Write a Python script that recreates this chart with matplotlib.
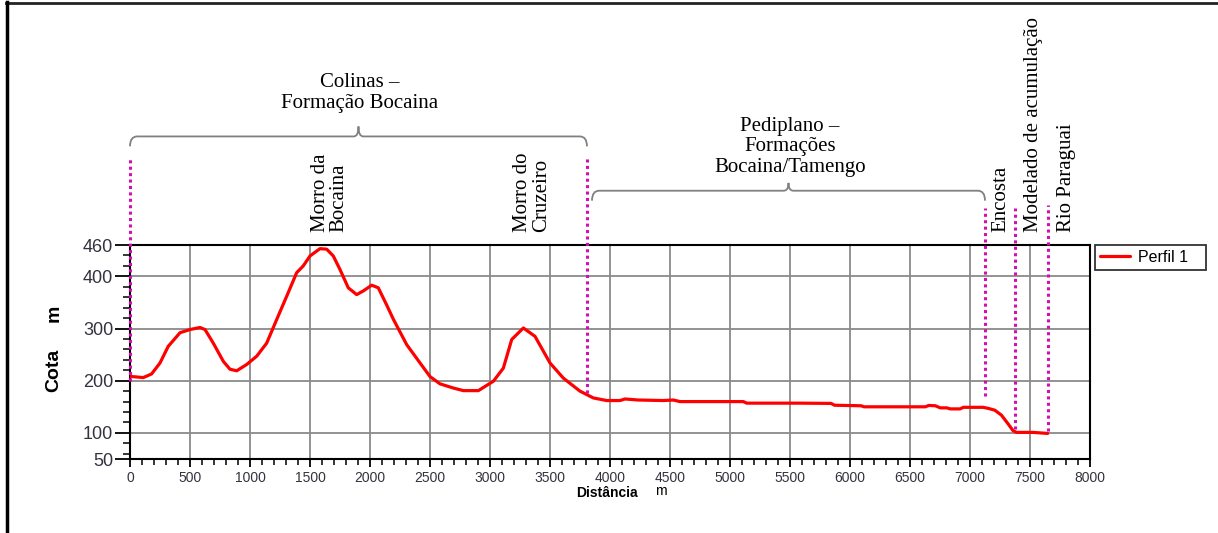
import matplotlib.pyplot as plt
from matplotlib.lines import Line2D
from matplotlib.path import Path
from matplotlib.patches import PathPatch
from matplotlib.ticker import MultipleLocator, FixedLocator

# perfil topografico (distancia em m, cota em m)
distancia = [0, 14, 111, 180, 250, 319, 417, 500, 583, 625, 694, 778, 833, 889, 972,
             1056, 1139, 1222, 1306, 1389, 1444, 1500, 1583, 1639, 1694, 1750, 1819,
             1889, 1944, 2014, 2069, 2139, 2194, 2306, 2417, 2500, 2583, 2694, 2778,
             2903, 3028, 3111, 3181, 3278, 3375, 3500, 3611, 3750, 3861, 3972, 4083,
             4125, 4236, 4444, 4528, 4583, 5111, 5139, 5583, 5843, 5871, 6091, 6118,
             6628, 6656, 6711, 6752, 6807, 6835, 6917, 6945, 7110, 7152, 7207, 7262,
             7317, 7358, 7386, 7523, 7647]
cota = [208, 208, 206, 213, 234, 266, 292, 298, 302, 298, 272, 237, 222, 219, 231,
        247, 272, 317, 362, 407, 420, 439, 453, 452, 439, 413, 378,
        365, 372, 383, 378, 345, 318, 269, 234, 208, 194, 186, 181,
        181, 199, 224, 279, 301, 285, 234, 205, 180, 167, 162, 162,
        165, 163, 162, 163, 160, 160, 157, 157, 156.5, 153, 152, 150,
        150, 152.6, 152, 148, 148, 146, 146, 149, 149, 147, 143.5, 134,
        117.5, 104.5, 101, 101, 99]

y_ticks = [50, 100, 200, 300, 400, 460]
x_ticks = list(range(0, 8001, 500))

# limites das unidades (linhas pontilhadas)
limites_x = [0, 3808, 7125, 7375, 7650]
limites_topo = [627, 627, 530, 530, 537]
limites_base = [199, 177, 170, 107, 103]

# textos verticais
rotulos = ["Morro da\nBocaina", "Morro do\nCruzeiro", "Encosta",
           "Modelado de acumulação", "Rio Paraguai"]
rotulos_x = [1667, 3350, 7258, 7533, 7800]

SERIF = ["Liberation Serif", "DejaVu Serif"]
SANS = ["Liberation Sans", "DejaVu Sans"]

fig = plt.figure(figsize=(12.18, 5.33), dpi=100)
ax = fig.add_axes([130 / 1218, 1 - 459 / 533, 960 / 1218, 214 / 533])

ax.plot(distancia, cota, color="#ff0000", lw=2.3, label="Perfil 1   ",
        solid_capstyle="round", solid_joinstyle="round", zorder=3)

ax.set_xlim(0, 8000)
ax.set_ylim(50, 460)
ax.set_xticks(x_ticks)
ax.set_yticks(y_ticks)
ax.xaxis.set_minor_locator(MultipleLocator(100))
ax.yaxis.set_minor_locator(FixedLocator(list(range(60, 460, 20))))
ax.tick_params(axis="x", which="major", length=6, width=1.3, labelsize=10,
               labelcolor="#333340", pad=3)
ax.tick_params(axis="x", which="minor", length=4, width=1.1)
ax.tick_params(axis="y", which="major", length=11, width=1.3, labelsize=13,
               labelcolor="#333340", pad=1)
ax.tick_params(axis="y", which="minor", length=5, width=1.1)
for lab in ax.get_xticklabels() + ax.get_yticklabels():
    lab.set_family(SANS)

ax.grid(True, which="major", color="#8a8a8a", lw=1.3)
ax.set_axisbelow(True)
for s in ax.spines.values():
    s.set_color("black")
    s.set_linewidth(1.5)

# linhas pontilhadas
for x, y0, y1 in zip(limites_x, limites_base, limites_topo):
    ax.plot([x, x], [y0, y1], color="#d010b0", lw=2.2, ls=(0, (1, 1.1)),
            clip_on=False, zorder=4)


# chaves (brackets) com cantos arredondados
def chave(x0, x1, y, drop, tip):
    xm = (x0 + x1) / 2
    dx, dn = 60, 40
    verts = [(x0, y - drop), (x0, y), (x0 + dx, y),
             (xm - dn, y), (xm, y), (xm, y + tip),
             (xm, y), (xm + dn, y),
             (x1 - dx, y), (x1, y), (x1, y - drop)]
    codes = [Path.MOVETO, Path.CURVE3, Path.CURVE3,
             Path.LINETO, Path.CURVE3, Path.CURVE3,
             Path.CURVE3, Path.CURVE3,
             Path.LINETO, Path.CURVE3, Path.CURVE3]
    ax.add_patch(PathPatch(Path(verts, codes), fc="none", ec="#808080", lw=1.3,
                           clip_on=False))


chave(0, 3808, 668, 19, 19)
chave(3850, 7125, 564, 19, 15)

ax.text(1917, 751, "Colinas –\nFormação Bocaina", ha="center", va="center",
        fontsize=15, family=SERIF, linespacing=1.12, clip_on=False)
ax.text(5500, 648, "Pediplano –\nFormações\nBocaina/Tamengo", ha="center", va="center",
        fontsize=15, family=SERIF, linespacing=1.12, clip_on=False)
for txt, x in zip(rotulos, rotulos_x):
    ax.text(x, 484, txt, rotation=90, ha="center", va="bottom", fontsize=15,
            family=SERIF, linespacing=0.95, multialignment="left", clip_on=False)

# titulos dos eixos
fig.text(54 / 1218, 1 - 370 / 533, "Cota", rotation=90, ha="center", va="center",
         fontsize=14, fontweight="bold", family=SANS)
fig.text(54 / 1218, 1 - 313 / 533, "m", rotation=90, ha="center", va="center",
         fontsize=14, fontweight="bold", family=SANS)
fig.text(576 / 1218, 1 - 493 / 533, "Distância", ha="left", va="center",
         fontsize=10, fontweight="bold", family=SANS)
fig.text(655 / 1218, 1 - 491 / 533, "m", ha="left", va="center",
         fontsize=10, family=SANS)

leg = ax.legend(loc="upper left", bbox_to_anchor=(1095 / 1218, 1 - 245 / 533),
                bbox_transform=fig.transFigure, frameon=True, fancybox=False,
                edgecolor="black", handlelength=1.9, borderpad=0.3,
                handletextpad=0.5, borderaxespad=0, prop={"family": SANS, "size": 11.5})
leg.get_frame().set_linewidth(1.3)
leg.set_zorder(5)

# moldura da figura (topo e esquerda)
fig.add_artist(Line2D([6 / 1218, 1], [1 - 3 / 533, 1 - 3 / 533], color="#222222", lw=2,
                      transform=fig.transFigure))
fig.add_artist(Line2D([6.5 / 1218, 6.5 / 1218], [0, 1 - 2 / 533], color="black", lw=2.5,
                      transform=fig.transFigure))

fig.savefig("out.png", dpi=100)
